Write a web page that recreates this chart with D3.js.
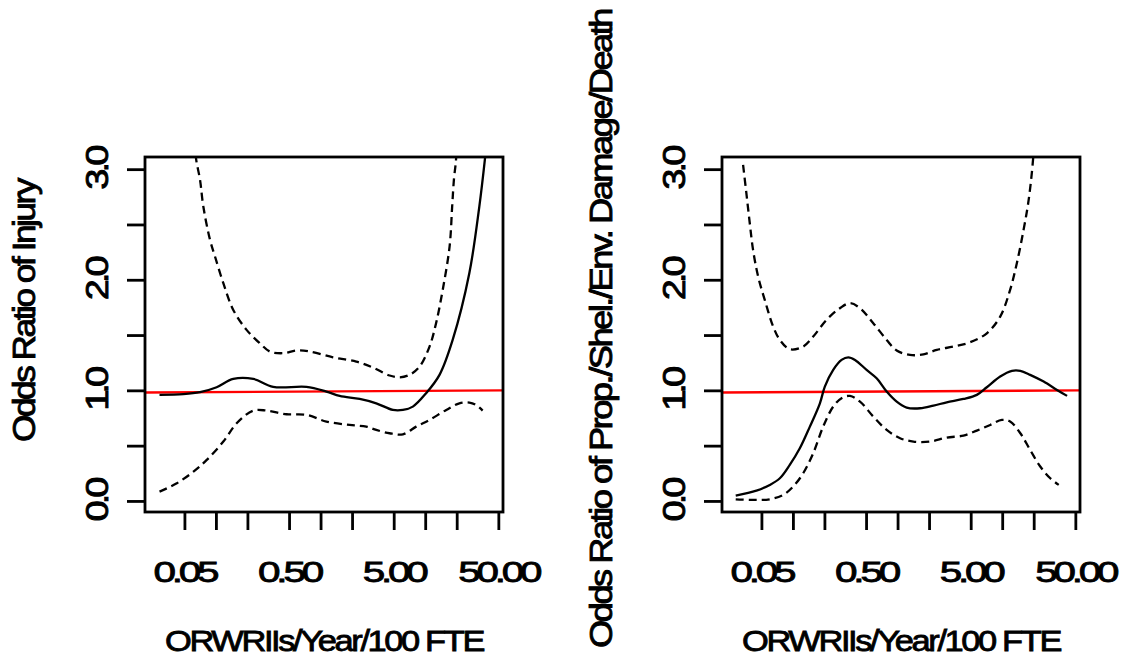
<!DOCTYPE html>
<html>
<head>
<meta charset="utf-8">
<script src="https://cdn.jsdelivr.net/npm/d3@7"></script>
<style>
  html, body { margin: 0; padding: 0; background: #ffffff; }
  svg { display: block; }
  text { font-family: "Liberation Sans", Arial, Helvetica, sans-serif; fill: #000; stroke: #000; stroke-width: 0.8px; }
</style>
</head>
<body>
<svg id="chart" width="1124" height="660"></svg>
<script>
// ---------------- DATA ----------------
const xDomain = [0.021, 55.4];
const yDomain = [-0.1, 3.11];
const xTicks = [0.05, 0.1, 0.2, 0.5, 1, 2, 5, 10, 20, 50];
const xLabelValues = [0.05, 0.5, 5, 50];
const xLabels = ["0.05", "0.50", "5.00", "50.00"];
const yTicks = [0, 0.5, 1, 1.5, 2, 2.5, 3];
const yLabelValues = [0, 1, 2, 3];
const yLabels = ["0.0", "1.0", "2.0", "3.0"];
const xTitle = "ORWRIIs/Year/100 FTE";
const yTitleInjury = "Odds Ratio of Injury";
const yTitleDamage = "Odds Ratio of Prop./Shel./Env. Damage/Death";
const refLine = [[0.021, 0.98], [55.4, 1.0]];

// Panel 1: injury  [x, odds ratio]
const injuryFit = [
  [0.0289, 0.959], [0.0489, 0.965], [0.0705, 0.983], [0.1016, 1.028], [0.1465, 1.103],
  [0.2274, 1.103], [0.3526, 1.031], [0.733, 1.031], [1.137, 0.989], [1.524, 0.950],
  [2.364, 0.922], [3.407, 0.883], [4.91, 0.823], [6.12, 0.823], [7.62, 0.853],
  [10.2, 0.974], [13.7, 1.140], [18.3, 1.456], [26.4, 2.059], [32.9, 2.662],
  [37.3, 3.099], [38.7, 3.25]
];
const injuryUpper = [
  [0.0635, 3.25], [0.0645, 3.099], [0.0705, 2.903], [0.0758, 2.662], [0.0878, 2.361],
  [0.098, 2.210], [0.1177, 1.969], [0.1465, 1.727], [0.1963, 1.547], [0.263, 1.426],
  [0.328, 1.351], [0.439, 1.336], [0.589, 1.360], [0.789, 1.351], [1.316, 1.299],
  [2.196, 1.260], [3.17, 1.206], [4.57, 1.134], [5.69, 1.118], [7.08, 1.140],
  [8.83, 1.215], [11.0, 1.396], [12.7, 1.607], [14.7, 1.908], [17.1, 2.300],
  [18.1, 2.662], [18.8, 2.903], [19.7, 3.084], [20.0, 3.25]
];
const injuryLower = [
  [0.0289, 0.084], [0.0423, 0.160], [0.061, 0.265], [0.0817, 0.371], [0.1177, 0.537],
  [0.1578, 0.702], [0.2274, 0.817], [0.305, 0.817], [0.473, 0.784], [0.733, 0.778],
  [1.137, 0.718], [1.897, 0.687], [2.735, 0.672], [3.407, 0.642], [4.57, 0.612],
  [6.12, 0.603], [8.20, 0.672], [11.0, 0.733], [15.9, 0.823], [21.2, 0.883],
  [26.4, 0.889], [30.6, 0.868], [35.4, 0.817]
];

// Panel 2: property / shelter / environment damage / death
const damageFit = [
  [0.0284, 0.048], [0.0448, 0.093], [0.0601, 0.145], [0.0750, 0.205], [0.0933, 0.326],
  [0.1164, 0.476], [0.1452, 0.672], [0.1811, 0.883], [0.2018, 1.034], [0.2427, 1.185],
  [0.2917, 1.275], [0.338, 1.299], [0.392, 1.275], [0.506, 1.185], [0.631, 1.109],
  [0.787, 0.989], [0.981, 0.898], [1.222, 0.844], [1.641, 0.838], [2.203, 0.862],
  [2.951, 0.892], [4.26, 0.922], [5.72, 0.959], [7.13, 1.028], [9.57, 1.125],
  [12.4, 1.176], [14.9, 1.176], [18.5, 1.140], [24.9, 1.079], [33.4, 1.004],
  [41.7, 0.950]
];
const damageUpper = [
  [0.0334, 3.039], [0.0359, 2.783], [0.0387, 2.511], [0.0416, 2.270], [0.0465, 2.029],
  [0.0538, 1.818], [0.0647, 1.577], [0.0750, 1.456], [0.0933, 1.372], [0.1253, 1.396],
  [0.1563, 1.486], [0.2094, 1.637], [0.2812, 1.743], [0.351, 1.788], [0.4375, 1.743],
  [0.586, 1.607], [0.787, 1.456], [0.981, 1.360], [1.315, 1.320], [1.766, 1.326],
  [2.370, 1.366], [3.42, 1.396], [4.94, 1.435], [7.13, 1.516], [9.57, 1.667],
  [11.9, 1.908], [13.8, 2.150], [16.0, 2.451], [17.9, 2.722], [19.7, 3.084],
  [20.1, 3.25]
];
const damageLower = [
  [0.0284, 0.015], [0.0416, 0.009], [0.0601, 0.015], [0.0805, 0.054], [0.1005, 0.130],
  [0.1253, 0.250], [0.1563, 0.431], [0.1945, 0.672], [0.2427, 0.853], [0.2917, 0.929],
  [0.351, 0.950], [0.4375, 0.898], [0.586, 0.763], [0.787, 0.642], [1.057, 0.567],
  [1.416, 0.537], [2.047, 0.537], [2.951, 0.573], [4.26, 0.591], [5.72, 0.636],
  [7.68, 0.687], [9.93, 0.733], [11.9, 0.718], [14.9, 0.612], [18.5, 0.461],
  [23.1, 0.311], [28.8, 0.205], [34.7, 0.145]
];

// ---------------- LAYOUT ----------------
const panels = [
  { id: "p1", x0: 145, x1: 503, y0: 157, y1: 512, yTitle: yTitleInjury, yTitleLen: 262, yTitleCenter: 311,
    fit: injuryFit, upper: injuryUpper, lower: injuryLower },
  { id: "p2", x0: 722, x1: 1080, y0: 157, y1: 512, yTitle: yTitleDamage, yTitleLen: 638, yTitleCenter: 329,
    fit: damageFit, upper: damageUpper, lower: damageLower }
];

const svg = d3.select("#chart");
const FS = 29;

panels.forEach(p => {
  const x = d3.scaleLog().domain(xDomain).range([p.x0, p.x1]);
  const y = d3.scaleLinear().domain(yDomain).range([p.y1, p.y0]);
  const g = svg.append("g");

  g.append("clipPath").attr("id", "clip-" + p.id)
    .append("rect").attr("x", p.x0).attr("y", p.y0)
    .attr("width", p.x1 - p.x0).attr("height", p.y1 - p.y0);

  const line = d3.line().x(d => x(d[0])).y(d => y(d[1])).curve(d3.curveCatmullRom.alpha(0.5));
  const plot = g.append("g").attr("clip-path", `url(#clip-${p.id})`);

  // reference line
  plot.append("path").datum(refLine)
    .attr("d", d3.line().x(d => x(d[0])).y(d => y(d[1])))
    .attr("fill", "none").attr("stroke", "#ff0000").attr("stroke-width", 2.4);

  plot.append("path").datum(p.upper).attr("d", line)
    .attr("fill", "none").attr("stroke", "#000").attr("stroke-width", 2.3)
    .attr("stroke-dasharray", "8,5");
  plot.append("path").datum(p.lower).attr("d", line)
    .attr("fill", "none").attr("stroke", "#000").attr("stroke-width", 2.3)
    .attr("stroke-dasharray", "8,5");
  plot.append("path").datum(p.fit).attr("d", line)
    .attr("fill", "none").attr("stroke", "#000").attr("stroke-width", 2.3);

  // box
  g.append("rect").attr("x", p.x0).attr("y", p.y0)
    .attr("width", p.x1 - p.x0).attr("height", p.y1 - p.y0)
    .attr("fill", "none").attr("stroke", "#000").attr("stroke-width", 2.8);

  // x axis
  const xAxis = d3.axisBottom(x).tickValues(xTicks).tickSize(18).tickFormat("");
  const xg = g.append("g").attr("transform", `translate(0,${p.y1})`).call(xAxis);
  xg.select(".domain").remove();
  xg.selectAll(".tick line").attr("stroke", "#000").attr("stroke-width", 2.8);

  // y axis
  const yAxis = d3.axisLeft(y).tickValues(yTicks).tickSize(18).tickFormat("");
  const yg = g.append("g").attr("transform", `translate(${p.x0},0)`).call(yAxis);
  yg.select(".domain").remove();
  yg.selectAll(".tick line").attr("stroke", "#000").attr("stroke-width", 2.8);

  // x tick labels
  xLabelValues.forEach((v, i) => {
    g.append("text")
      .attr("x", x(v)).attr("y", p.y1 + 70)
      .attr("text-anchor", "middle").attr("font-size", FS)
      .attr("letter-spacing", -3)
      .attr("textLength", xLabels[i].length === 5 ? 80 : 62)
      .attr("lengthAdjust", "spacingAndGlyphs")
      .text(xLabels[i]);
  });

  // y tick labels (rotated)
  yLabelValues.forEach((v, i) => {
    g.append("text")
      .attr("transform", `translate(${p.x0 - 37},${y(v)}) scale(1.1,1) rotate(-90)`)
      .attr("text-anchor", "middle").attr("font-size", FS)
      .attr("letter-spacing", -3)
      .attr("textLength", 41).attr("lengthAdjust", "spacingAndGlyphs")
      .text(yLabels[i]);
  });

  // x title
  g.append("text")
    .attr("x", (p.x0 + p.x1) / 2).attr("y", p.y1 + 139)
    .attr("text-anchor", "middle").attr("font-size", FS)
    .attr("letter-spacing", -2)
    .attr("textLength", 318).attr("lengthAdjust", "spacingAndGlyphs")
    .text(xTitle);

  // y title
  g.append("text")
    .attr("transform", `translate(${p.x0 - 110},${p.yTitleCenter}) scale(1.1,1) rotate(-90)`)
    .attr("text-anchor", "middle").attr("font-size", FS)
    .attr("letter-spacing", -2)
    .attr("textLength", p.yTitleLen).attr("lengthAdjust", "spacingAndGlyphs")
    .text(p.yTitle);
});
</script>
</body>
</html>
